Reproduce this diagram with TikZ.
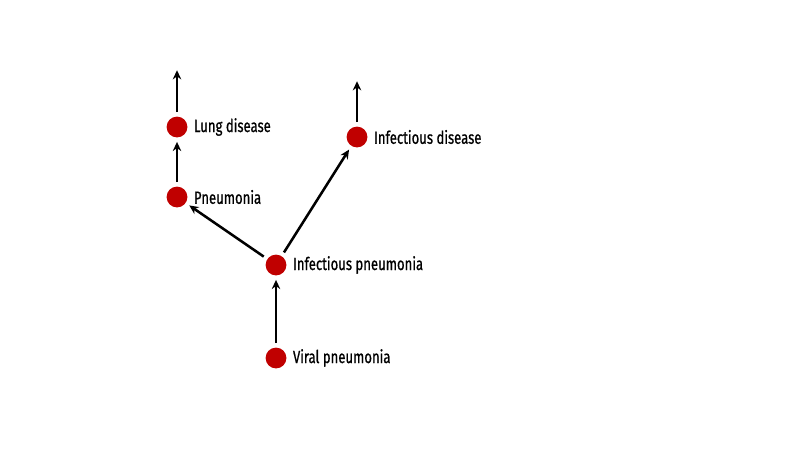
\documentclass[tikz,border=0pt]{standalone}
\usepackage{fontspec}
\setmainfont{Fira Sans}[FakeStretch=0.74, FakeBold=0.8]
\usetikzlibrary{arrows.meta,positioning}
\definecolor{dotred}{RGB}{192,0,0}
\begin{document}
\begin{tikzpicture}[
    x=0.025cm, y=-0.025cm,
    dot/.style={circle, fill=dotred, inner sep=0pt, minimum size=0.52cm},
    lbl/.style={anchor=west, inner sep=0pt, font=\fontsize{12.6}{15}\selectfont},
    arrow/.style={-{Stealth[length=6.5pt,width=6pt]}, line width=1.8pt, shorten <=3pt, shorten >=3pt}
]
\useasboundingbox (0,0) rectangle (800,450);

% Concepts
\node[dot] (lung) at (177,127) {};
\node[dot] (pneu) at (177,197) {};
\node[dot] (infpneu) at (276,265) {};
\node[dot] (viral) at (276,358) {};
\node[dot] (infdis) at (357,137) {};

% Labels
\node[lbl, right=0.15cm of lung] (lungtxt) {Lung disease};
\node[lbl, right=0.15cm of pneu] (pneutxt) {Pneumonia};
\node[lbl, right=0.15cm of infpneu] (infpneutxt) {Infectious pneumonia};
\node[lbl, right=0.15cm of viral] (viraltxt) {Viral pneumonia};
\node[lbl, right=0.15cm of infdis] (infdistxt) {Infectious disease};

% Free ends
\coordinate (lungtop) at (177,66);
\coordinate (infdistop) at (357,77);

% Arrows
\draw[arrow] (lung) -- (lungtop);
\draw[arrow] (infdis) -- (infdistop);
\draw[arrow] (pneu) -- (lung);
\draw[arrow] (viral) -- (infpneu);
\draw[arrow] (infpneu) -- (pneu);
\draw[arrow] (infpneu) -- (infdis);

\end{tikzpicture}
\end{document}
